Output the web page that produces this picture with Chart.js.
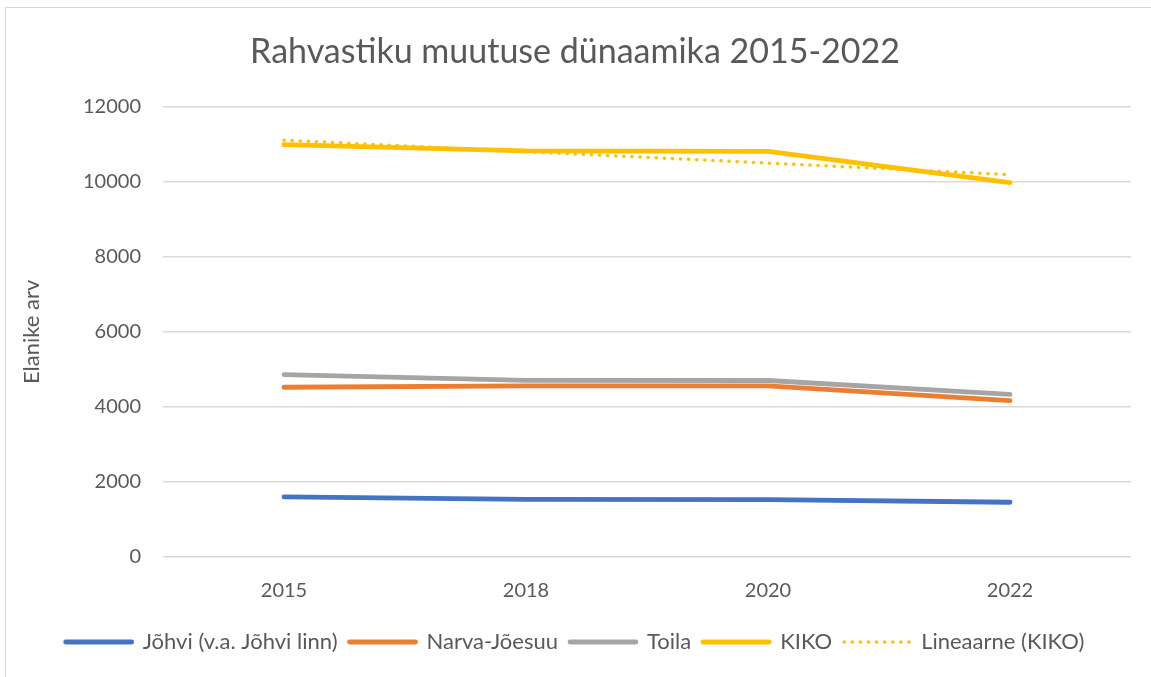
<!DOCTYPE html>
<html>
<head>
<meta charset="utf-8">
<script src="https://cdn.jsdelivr.net/npm/chart.js@4"></script>
<style>
    body { margin: 0; background: #fff; }
    #frame { position: absolute; left: 5px; top: 7px; width: 1160px; height: 700px; border: 1.5px solid #d9d9d9; box-sizing: border-box; }
    #wrap { position: absolute; left: 0; top: 0; width: 1151px; height: 677px; }
</style>
</head>
<body>
<div id="frame"></div>
<div id="wrap"><canvas id="chart"></canvas></div>
<script>
// Andmed
const years = ['2015', '2018', '2020', '2022'];
const johvi = [1600, 1535, 1530, 1460];
const narva = [4525, 4560, 4560, 4170];
const toila = [4860, 4710, 4705, 4335];
const kiko = [10990, 10825, 10810, 9980];
const kikoTrend = [11110, 10805, 10500, 10190];

const seriesNames = ['Jõhvi (v.a. Jõhvi linn)', 'Narva-Jõesuu', 'Toila', 'KIKO', 'Lineaarne (KIKO)'];
const yTicks = [0, 2000, 4000, 6000, 8000, 10000, 12000];

const FONT = 'Lato, "Open Sans", sans-serif';
const TEXT = '#595959';

function lineSet(label, data, color, extra) {
    return Object.assign({
        label,
        data,
        borderColor: color,
        backgroundColor: color,
        borderWidth: 4.8,
        borderCapStyle: 'round',
        borderJoinStyle: 'round',
        pointRadius: 0,
        tension: 0,
        fill: false
    }, extra || {});
}

const ctx = document.getElementById('chart').getContext('2d');
new Chart(ctx, {
    type: 'line',
    data: {
        labels: years,
        datasets: [
            lineSet(seriesNames[0], johvi, '#4472c4'),
            lineSet(seriesNames[1], narva, '#ed7d31'),
            lineSet(seriesNames[2], toila, '#a5a5a5'),
            lineSet(seriesNames[3], kiko, '#ffc000'),
            lineSet(seriesNames[4], kikoTrend, '#ffc000', { borderWidth: 3.5, borderDash: [0.1, 8] })
        ]
    },
    options: {
        responsive: true,
        maintainAspectRatio: false,
        animation: false,
        layout: { padding: { left: 19, right: 20, top: 22, bottom: 14 } },
        plugins: {
            title: {
                display: true,
                text: 'Rahvastiku muutuse dünaamika 2015-2022',
                color: TEXT,
                font: { family: FONT, size: 34, weight: 'normal' },
                padding: { top: 10, bottom: 34 }
            },
            legend: {
                position: 'bottom',
                labels: {
                    color: TEXT,
                    font: { family: FONT, size: 22 },
                    usePointStyle: true,
                    pointStyleWidth: 66,
                    padding: 12,
                    generateLabels: chart => chart.data.datasets.map((ds, i) => ({
                        text: ds.label,
                        fillStyle: ds.borderColor,
                        strokeStyle: ds.borderColor,
                        lineWidth: ds.borderWidth,
                        lineDash: ds.borderDash || [],
                        lineCap: 'round',
                        pointStyle: 'line',
                        fontColor: TEXT,
                        hidden: false,
                        datasetIndex: i
                    }))
                }
            },
            tooltip: { enabled: false }
        },
        scales: {
            x: {
                offset: true,
                grid: { display: false },
                border: { display: false },
                ticks: { color: TEXT, font: { family: FONT, size: 20 }, padding: 14 },
                afterFit: scale => { scale.height = 62; }
            },
            y: {
                min: 0,
                max: 12000,
                afterBuildTicks: scale => { scale.ticks = yTicks.map(v => ({ value: v })); },
                grid: { color: '#d9d9d9', lineWidth: 1.5, drawTicks: false },
                border: { display: false },
                ticks: { color: TEXT, font: { family: FONT, size: 20 }, padding: 22, callback: v => String(v) },
                title: {
                    display: true,
                    text: 'Elanike arv',
                    color: TEXT,
                    font: { family: FONT, size: 22 },
                    padding: { top: 0, bottom: 0 }
                },
                afterFit: scale => { scale.width = 144; }
            }
        }
    }
});
</script>
</body>
</html>
